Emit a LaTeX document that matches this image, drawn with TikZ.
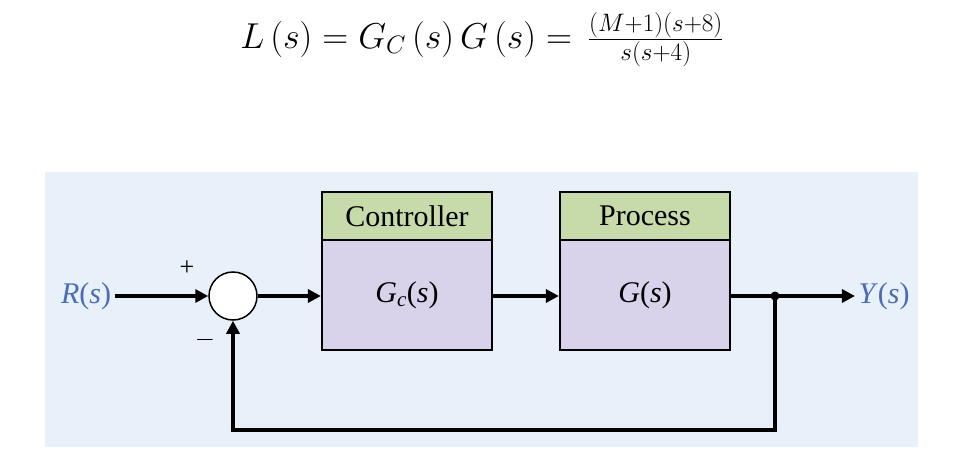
\RequirePackage{fix-cm}
\documentclass[tikz,border=0pt]{standalone}
\usepackage{fontspec}
\setmainfont{Liberation Serif}
\usepackage{amsmath}
\usetikzlibrary{arrows.meta}
\definecolor{bg}{HTML}{E8F1FA}
\definecolor{hdr}{HTML}{C6DBA9}
\definecolor{bod}{HTML}{D8D3EA}
\definecolor{lbl}{HTML}{4A6DB5}
\begin{document}
\begin{tikzpicture}[x=1pt,y=-1pt,
  box/.style={draw=black,line width=2.2pt,minimum width=170pt},
  sig/.style={line width=3.6pt,-{Triangle[length=13pt,width=13pt]}},
  wire/.style={line width=3.6pt},
  txt/.style={font=\fontsize{30}{34}\selectfont}]
\useasboundingbox (0,0) rectangle (972,460);
\node (f) at (482,40) {\fontsize{36}{40}\selectfont $L\left(s\right)=G_C\left(s\right)G\left(s\right)=\,\frac{(M+1)(s+8)}{s(s+4)}$};
\fill[bg] (45,172) rectangle (918,447);
\node[box,fill=hdr,minimum height=48pt,txt] (ch) at (407,216) {Controller};
\node[box,fill=bod,minimum height=110pt,txt] (cb) at (407,295) {\textit{G}\textsubscript{\textit{c}}(\textit{s})};
\node[box,fill=hdr,minimum height=48pt,txt] (ph) at (645,216) {Process};
\node[box,fill=bod,minimum height=110pt,txt] (pb) at (645,295) {\textit{G}(\textit{s})};
\node[circle,draw,fill=white,line width=1.5pt,minimum size=48pt,inner sep=0] (s) at (233,296) {};
\node[txt,text=lbl] (r) at (86,296) {\textit{R}(\textit{s})};
\node[txt,text=lbl] (y) at (884,296) {\textit{Y}(\textit{s})};
\node[font=\fontsize{26}{28}\selectfont] (p) at (187,268) {+};
\node[font=\fontsize{26}{28}\selectfont] (m) at (205,340) {$-$};
\coordinate (b) at (775,296);
\coordinate (b2) at (775,430);
\coordinate (b3) at (233,430);
\draw[sig] (r.east) -- (s.west);
\draw[sig] (s.east) -- (cb.west|-s);
\draw[sig] (cb.east|-s) -- (pb.west|-s);
\draw[sig] (pb.east|-s) -- (y.west);
\fill (b) circle (4.5pt);
\draw[wire] (b) -- (b2) -- (b3) -- ++(0,1.8);
\draw[sig] (b3) -- (s.south);
\end{tikzpicture}
\end{document}
